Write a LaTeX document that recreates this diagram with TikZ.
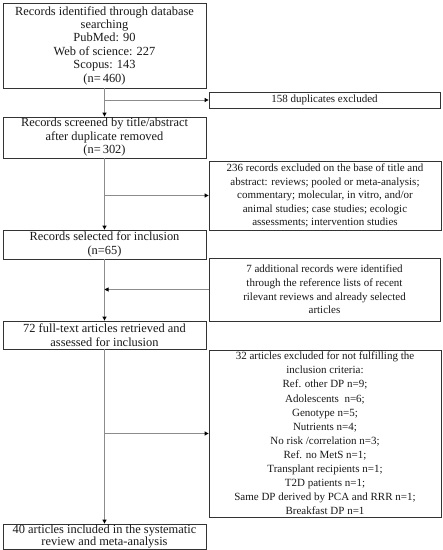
\documentclass[tikz,border=0pt]{standalone}
\usepackage{fontspec}
\setmainfont{Liberation Serif}
\usetikzlibrary{arrows.meta}
\begin{document}
\begin{tikzpicture}[x=1pt,y=-1pt,
  boxnode/.style={draw=black!80, line width=0.8pt, inner sep=0pt, align=center,
    font=\fontsize{11}{13.5}\selectfont, text=black!90},
  leftbox/.style={boxnode, minimum width=203pt, font=\fontsize{12.4}{13.5}\selectfont},
  conn/.style={draw=black!45, line width=0.9pt},
  arr/.style={conn, -{Triangle[length=4pt,width=4pt,black]}}]
\useasboundingbox (0,0) rectangle (443,550);
\fill[white] (0,0) rectangle (443,550);
\node[leftbox, minimum height=85pt, font=\fontsize{12.4}{13.4}\selectfont] (b1) at (104.5,45.5)
  {Records identified through database\\searching\\PubMed: 90\\Web of science: 227\\Scopus: 143\\(n=\,460)};
\node[boxnode, minimum width=231pt, minimum height=16pt] (d1) at (324.5,100) {158 duplicates excluded};
\node[leftbox, minimum height=41pt] (b2) at (104.5,137.5)
  {Records screened by title/abstract\\after duplicate removed\\(n=\,302)};
\node[boxnode, minimum width=232pt, minimum height=69pt] (d2) at (325,195.5)
  {236 records excluded on the base of title and\\abstract: reviews; pooled or meta-analysis;\\commentary; molecular, in vitro, and/or\\animal studies; case studies; ecologic\\assessments; intervention studies};
\node[leftbox, minimum height=29pt] (b3) at (104.5,244.5)
  {Records selected for inclusion\\(n=65)};
\node[boxnode, minimum width=231pt, minimum height=63pt, font=\fontsize{11}{13.7}\selectfont] (d3) at (324.5,289.5)
  {7 additional records were identified\\through the reference lists of recent\\rilevant reviews and already selected\\articles};
\node[leftbox, minimum height=28pt] (b4) at (104.5,335)
  {72 full-text articles retrieved and\\assessed for inclusion};
\node[boxnode, minimum width=232pt, minimum height=167pt, font=\fontsize{11}{14.1}\selectfont] (d4) at (325,433.5)
  {32 articles excluded for not fulfilling the\\inclusion criteria:\\Ref. other DP n=9;\\Adolescents\ \ n=6;\\Genotype n=5;\\Nutrients n=4;\\No risk /correlation n=3;\\Ref. no MetS n=1;\\Transplant recipients n=1;\\T2D patients n=1;\\Same DP derived by PCA and RRR n=1;\\Breakfast DP n=1};
\node[leftbox, minimum height=25pt, font=\fontsize{12.4}{11.8}\selectfont] (b5) at (104.5,536.5)
  {40 articles included in the systematic\\review and meta-analysis};
% connectors
\draw[arr] (b1) -- (b2);
\coordinate (j1) at (b1.south |- d1.west);
\draw[arr] (j1) -- (d1.west);
\draw[arr] (b2) -- (b3);
\coordinate (j2) at (b2.south |- d2.west);
\draw[arr] (j2) -- (d2.west);
\draw[arr] (b3) -- (b4);
\coordinate (j3) at (b3.south |- d3.west);
\draw[arr] (d3.west) -- (j3);
\draw[arr] (b4) -- (b5);
\coordinate (j4) at (b4.south |- d4.west);
\draw[arr] (j4) -- (d4.west);
\end{tikzpicture}
\end{document}
